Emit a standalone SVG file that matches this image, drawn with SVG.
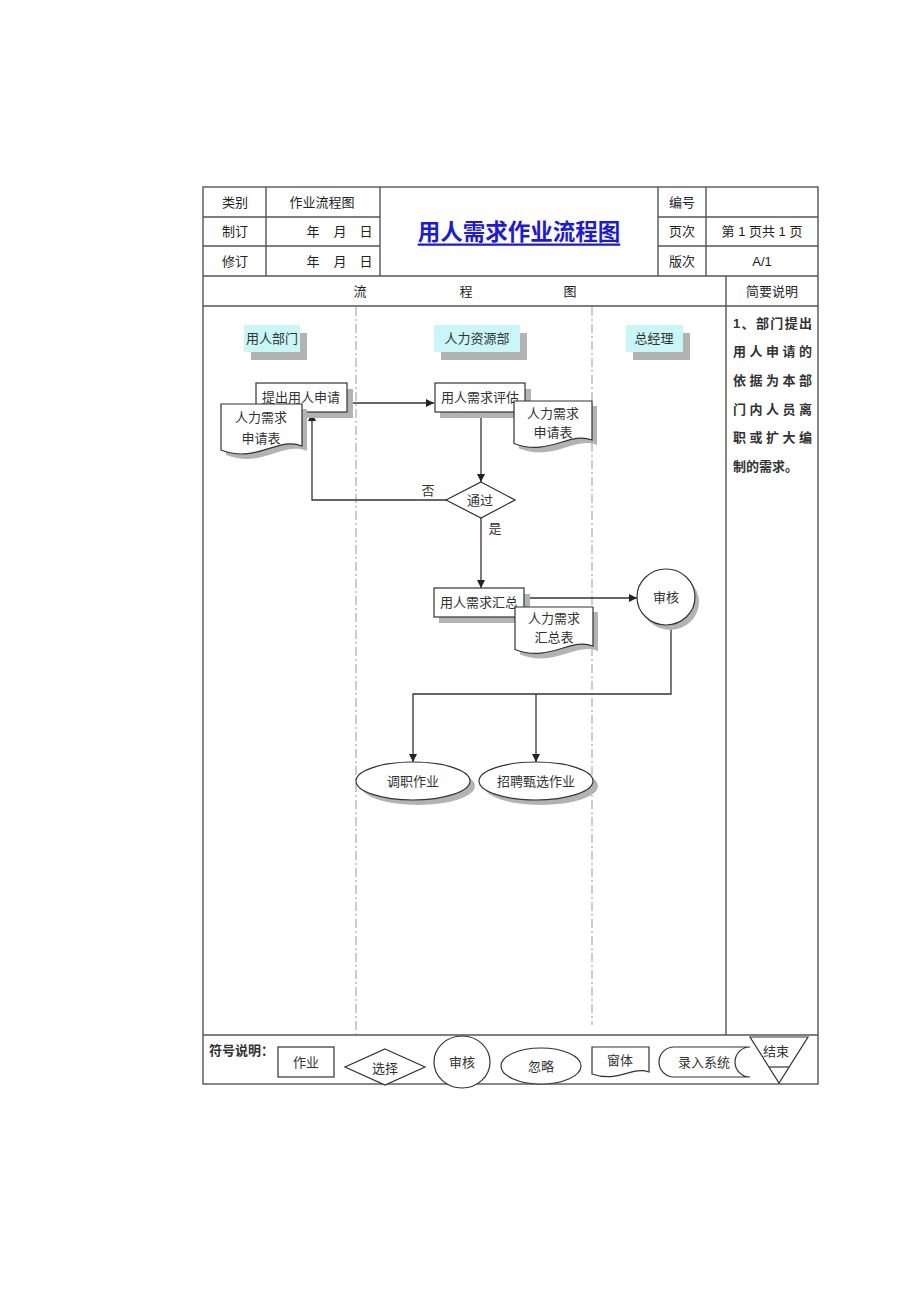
<svg xmlns="http://www.w3.org/2000/svg" width="920" height="1302" viewBox="0 0 920 1302">
<style>
.tb{fill:none;stroke:#555;stroke-width:1.4}
.t{font-family:"Liberation Sans","Noto Sans CJK SC",sans-serif;font-size:13px;fill:#222;text-anchor:middle;dominant-baseline:central}
.n{font-family:"Liberation Serif","Noto Sans CJK SC",serif;font-size:13px;fill:#333;text-anchor:middle;dominant-baseline:central}
.lane{stroke:#999;stroke-width:1;stroke-dasharray:9 3 2 3;fill:none}
.sh{fill:#b3b3b3;stroke:none}
.box{fill:#fff;stroke:#333;stroke-width:1.2}
.lab{fill:#c9f6f6;stroke:none}
.c{fill:none;stroke:#333;stroke-width:1.3}
.d{font-family:"Liberation Sans","Noto Sans CJK SC",sans-serif;font-size:13px;fill:#333;font-weight:bold;dominant-baseline:central}
</style>
<defs>
<marker id="ah" viewBox="0 0 10 10" refX="10" refY="5" markerWidth="8" markerHeight="8" markerUnits="userSpaceOnUse" orient="auto">
<path d="M0,0 L10,5 L0,10 Z" fill="#222"/>
</marker>
</defs>
<rect width="920" height="1302" fill="#fff"/>

<g id="table">
<rect class="tb" x="203" y="187" width="615" height="897"/>
<line class="tb" x1="203" y1="217" x2="380" y2="217"/>
<line class="tb" x1="203" y1="246" x2="380" y2="246"/>
<line class="tb" x1="658" y1="217" x2="818" y2="217"/>
<line class="tb" x1="658" y1="246" x2="818" y2="246"/>
<line class="tb" x1="203" y1="276" x2="818" y2="276"/>
<line class="tb" x1="203" y1="306" x2="818" y2="306"/>
<line class="tb" x1="203" y1="1035" x2="818" y2="1035"/>
<line class="tb" x1="266" y1="187" x2="266" y2="276"/>
<line class="tb" x1="380" y1="187" x2="380" y2="276"/>
<line class="tb" x1="658" y1="187" x2="658" y2="276"/>
<line class="tb" x1="706" y1="187" x2="706" y2="276"/>
<line class="tb" x1="726" y1="276" x2="726" y2="1035"/>
<text class="t" x="235" y="202">类别</text>
<text class="t" x="322" y="202">作业流程图</text>
<text class="t" x="235" y="231">制订</text>
<text class="t" x="313" y="231">年</text>
<text class="t" x="340" y="231">月</text>
<text class="t" x="366" y="231">日</text>
<text class="t" x="235" y="261">修订</text>
<text class="t" x="313" y="261">年</text>
<text class="t" x="340" y="261">月</text>
<text class="t" x="366" y="261">日</text>
<text x="519" y="232" font-family="Liberation Sans,'Noto Sans CJK SC',sans-serif" font-size="22.5" font-weight="bold" fill="#1a1adc" text-anchor="middle" dominant-baseline="central" text-decoration="underline">用人需求作业流程图</text>
<text class="t" x="682" y="202">编号</text>
<text class="t" x="682" y="231">页次</text>
<text class="t" x="762" y="231">第 1 页共 1 页</text>
<text class="t" x="682" y="261">版次</text>
<text class="t" x="762" y="261">A/1</text>
<text class="t" x="360" y="291">流</text>
<text class="t" x="466" y="291">程</text>
<text class="t" x="570" y="291">图</text>
<text class="t" x="772" y="291">简要说明</text>
<text class="d" x="733" y="323" textLength="79" lengthAdjust="spacing">1、部门提出</text>
<text class="d" x="733" y="351" textLength="79" lengthAdjust="spacing">用人申请的</text>
<text class="d" x="733" y="380" textLength="79" lengthAdjust="spacing">依据为本部</text>
<text class="d" x="733" y="409" textLength="79" lengthAdjust="spacing">门内人员离</text>
<text class="d" x="733" y="437" textLength="79" lengthAdjust="spacing">职或扩大编</text>
<text class="d" x="733" y="466">制的需求。</text>
</g>

<g id="lanes">
<line class="lane" x1="356" y1="307" x2="356" y2="1034"/>
<line class="lane" x1="592" y1="307" x2="592" y2="1025"/>
</g>

<g id="lane-yongren">
<rect class="sh" x="251" y="333" width="56" height="27"/>
<rect class="lab" x="244" y="325" width="56" height="27"/>
<text class="n" x="272" y="338">用人部门</text>
</g>
<g id="lane-hr">
<rect class="sh" x="441" y="333" width="86" height="27"/>
<rect class="lab" x="434" y="325" width="86" height="27"/>
<text class="n" x="477" y="338">人力资源部</text>
</g>
<g id="lane-gm">
<rect class="sh" x="633" y="333" width="57" height="27"/>
<rect class="lab" x="626" y="325" width="57" height="27"/>
<text class="n" x="654" y="338">总经理</text>
</g>

<g id="connectors">
<line class="c" x1="347" y1="403" x2="434" y2="403" marker-end="url(#ah)"/>
<line class="c" x1="481" y1="412" x2="481" y2="482" marker-end="url(#ah)"/>
<polyline class="c" points="446,500 312,500 312,413" marker-end="url(#ah)"/>
<line class="c" x1="481" y1="518" x2="481" y2="588" marker-end="url(#ah)"/>
<line class="c" x1="524" y1="598" x2="637" y2="598" marker-end="url(#ah)"/>
<polyline class="c" points="671,624 671,694 413,694 413,762" marker-end="url(#ah)"/>
<line class="c" x1="536" y1="694" x2="536" y2="762" marker-end="url(#ah)"/>
<text class="n" x="428" y="490">否</text>
<text class="n" x="495" y="528">是</text>
</g>

<g id="node-tichu">
<rect class="sh" x="261" y="389" width="92" height="29"/>
<rect class="box" x="256" y="383" width="91" height="29"/>
<text class="n" x="301" y="397">提出用人申请</text>
</g>
<g id="doc-shenqing1">
<path class="sh" d="M226,409 H307 V451 C283,441 262,469 226,455 Z"/>
<path class="box" d="M221,404 H302 V446 C278,436 257,464 221,450 Z"/>
<text class="n" x="261" y="417">人力需求</text>
<text class="n" x="261" y="438">申请表</text>
</g>

<g id="node-pinggu">
<rect class="sh" x="440" y="389" width="91" height="29"/>
<rect class="box" x="435" y="383" width="90" height="29"/>
<text class="n" x="480" y="397">用人需求评估</text>
</g>
<g id="doc-shenqing2">
<path class="sh" d="M519,406 H597 V445 C574,436 554,462 519,448.5 Z"/>
<path class="box" d="M514,401 H592 V440 C569,431 549,457 514,443.5 Z"/>
<text class="n" x="553" y="413">人力需求</text>
<text class="n" x="553" y="432">申请表</text>
</g>

<g id="node-tongguo">
<polygon class="box" points="481,482 515,500 481,518 446,500"/>
<text class="n" x="480" y="500">通过</text>
</g>

<g id="node-huizong">
<rect class="sh" x="439" y="594" width="91" height="29"/>
<rect class="box" x="434" y="588" width="90" height="29"/>
<text class="n" x="479" y="602">用人需求汇总</text>
</g>
<g id="doc-huizong">
<path class="sh" d="M520,612 H598 V651 C575,642 555,668 520,654.5 Z"/>
<path class="box" d="M515,607 H593 V646 C570,637 550,663 515,649.5 Z"/>
<text class="n" x="554" y="618">人力需求</text>
<text class="n" x="554" y="637">汇总表</text>
</g>

<g id="node-shenhe">
<ellipse class="sh" cx="670" cy="602" rx="29" ry="28"/>
<ellipse class="box" cx="666" cy="597" rx="29" ry="28"/>
<text class="n" x="666" y="597">审核</text>
</g>

<g id="node-diaozhi">
<ellipse class="sh" cx="418" cy="786" rx="57" ry="19"/>
<ellipse class="box" cx="413" cy="781" rx="57" ry="19"/>
<text class="n" x="413" y="781">调职作业</text>
</g>
<g id="node-zhaopin">
<ellipse class="sh" cx="541" cy="786" rx="57" ry="19"/>
<ellipse class="box" cx="536" cy="781" rx="57" ry="19"/>
<text class="n" x="536" y="781">招聘甄选作业</text>
</g>

<g id="legend">
<text class="d" x="209" y="1050">符号说明：</text>
<rect class="box" x="278" y="1047" width="56" height="30"/>
<text class="n" x="306" y="1062">作业</text>
<polygon class="box" points="385,1049 425,1067 385,1085 345,1067"/>
<text class="n" x="385" y="1068">选择</text>
<ellipse class="box" cx="462" cy="1062" rx="28" ry="26"/>
<text class="n" x="462" y="1062">审核</text>
<ellipse class="box" cx="541" cy="1066" rx="40" ry="18"/>
<text class="n" x="541" y="1066">忽略</text>
<path class="box" d="M592,1047 H649 V1072 C632,1066 618,1083 592,1074 Z"/>
<text class="n" x="620" y="1060">窗体</text>
<path class="box" d="M674,1047 H750 A15,15 0 0 0 750,1077 H674 A15,15 0 0 1 674,1047 Z"/>
<text class="n" x="704" y="1062">录入系统</text>
<polygon class="box" points="750,1037 808,1037 779,1083"/>
<line class="box" x1="769" y1="1067" x2="789" y2="1067"/>
<text class="n" x="776" y="1051">结束</text>
</g>
</svg>
